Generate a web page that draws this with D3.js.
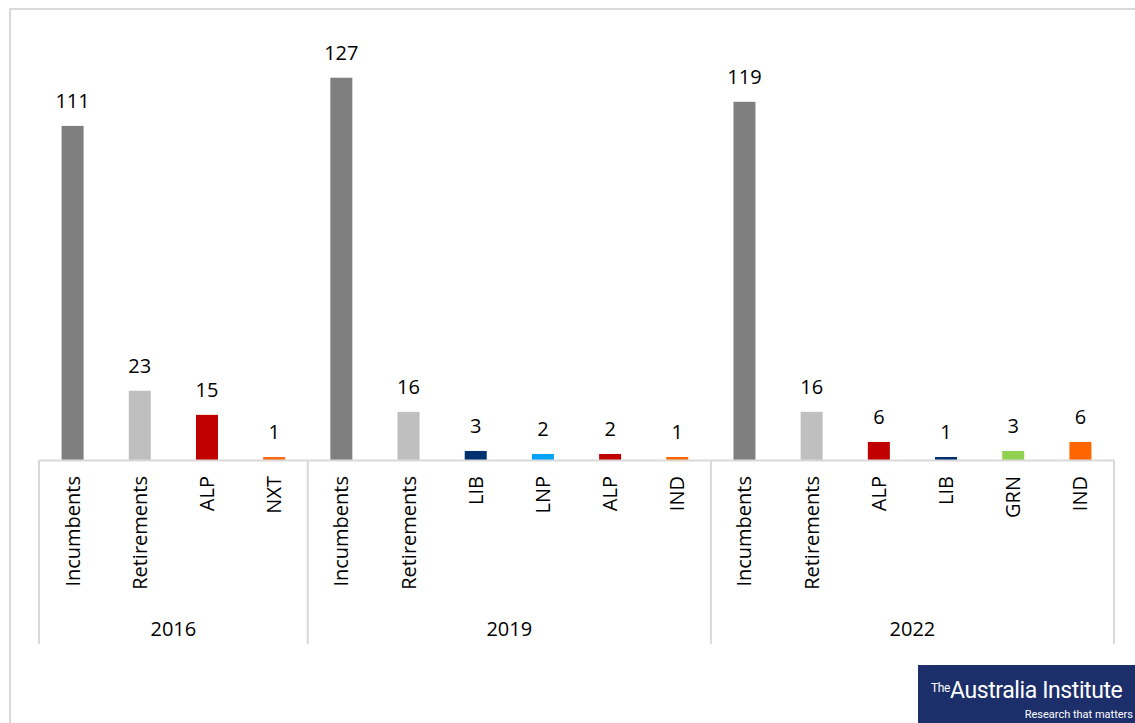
<!DOCTYPE html>
<html>
<head>
<meta charset="utf-8">
<script src="https://cdn.jsdelivr.net/npm/d3@7"></script>
<style>
  html, body { margin: 0; padding: 0; background: #fff; }
  svg { display: block; }
</style>
</head>
<body>
<svg id="chart" width="1135" height="723"></svg>
<script>
const years = ["2016", "2019", "2022"];
const categories2016 = ["Incumbents", "Retirements", "ALP", "NXT"];
const categories2019 = ["Incumbents", "Retirements", "LIB", "LNP", "ALP", "IND"];
const categories2022 = ["Incumbents", "Retirements", "ALP", "LIB", "GRN", "IND"];
const values2016 = [111, 23, 15, 1];
const values2019 = [127, 16, 3, 2, 2, 1];
const values2022 = [119, 16, 6, 1, 3, 6];
const colorMap = {
  "Incumbents": "#7f7f7f",
  "Retirements": "#bfbfbf",
  "ALP": "#c00000",
  "NXT": "#ff6a13",
  "LIB": "#00306e",
  "LNP": "#00a3f5",
  "GRN": "#92d050",
  "IND": "#ff6600"
};

const groups = [
  { year: years[0], cats: categories2016, vals: values2016 },
  { year: years[1], cats: categories2019, vals: values2019 },
  { year: years[2], cats: categories2022, vals: values2022 }
];
const data = [];
groups.forEach(g => g.cats.forEach((c, i) => data.push({ key: g.year + "|" + c, year: g.year, cat: c, value: g.vals[i] })));

const svg = d3.select("#chart");
const font = "'Open Sans', sans-serif";
const fs = 20;

// outer frame
svg.append("rect").attr("x", 10).attr("y", 9).attr("width", 1140).attr("height", 730)
  .attr("fill", "none").attr("stroke", "#d9d9d9").attr("stroke-width", 2);

const x0 = 39, x1 = 1114, baseY = 460;
const x = d3.scaleBand().domain(data.map(d => d.key)).range([x0, x1]).paddingInner(0).paddingOuter(0);
const y = d3.scaleLinear().domain([0, 140]).range([baseY, baseY - 421.4]);
const barW = 22;

// bars
svg.append("g").selectAll("rect").data(data).join("rect")
  .attr("x", d => x(d.key) + x.bandwidth() / 2 - barW / 2)
  .attr("y", d => y(d.value))
  .attr("width", barW)
  .attr("height", d => baseY - y(d.value))
  .attr("fill", d => colorMap[d.cat]);

// value labels
svg.append("g").selectAll("text").data(data).join("text")
  .attr("x", d => x(d.key) + x.bandwidth() / 2)
  .attr("y", d => y(d.value) - 18)
  .attr("text-anchor", "middle")
  .attr("font-family", font)
  .attr("font-size", fs)
  .attr("fill", "#000")
  .text(d => d.value);

// axis baseline
const axisColor = "#d9d9d9";
svg.append("line").attr("x1", x0).attr("x2", x1).attr("y1", baseY + 0.5).attr("y2", baseY + 0.5)
  .attr("stroke", axisColor).attr("stroke-width", 2);

// group dividers
const boundaries = [x0];
let acc = 0;
groups.forEach(g => { acc += g.cats.length; boundaries.push(x(data[acc - 1].key) + x.bandwidth()); });
svg.append("g").selectAll("line").data(boundaries).join("line")
  .attr("x1", d => d).attr("x2", d => d)
  .attr("y1", baseY).attr("y2", 644)
  .attr("stroke", axisColor).attr("stroke-width", 2);

// category labels (rotated)
svg.append("g").selectAll("text").data(data).join("text")
  .attr("transform", d => `translate(${x(d.key) + x.bandwidth() / 2 + 7},${476}) rotate(-90)`)
  .attr("text-anchor", "end")
  .attr("font-family", font)
  .attr("font-size", fs)
  .attr("fill", "#000")
  .text(d => d.cat);

// year labels
const yearPos = groups.map((g, i) => ({ year: g.year, cx: (boundaries[i] + boundaries[i + 1]) / 2 }));
svg.append("g").selectAll("text").data(yearPos).join("text")
  .attr("x", d => d.cx)
  .attr("y", 636)
  .attr("text-anchor", "middle")
  .attr("font-family", font)
  .attr("font-size", fs)
  .attr("fill", "#000")
  .text(d => d.year);

// logo
const logo = svg.append("g");
logo.append("rect").attr("x", 918).attr("y", 665).attr("width", 217).attr("height", 58).attr("fill", "#1d2f6b");
const t = logo.append("text").attr("x", 931).attr("y", 698).attr("fill", "#fff")
  .attr("font-family", "'Liberation Sans Narrow', 'Roboto', sans-serif").attr("letter-spacing", -0.4);
t.append("tspan").attr("font-size", 12).attr("dy", -6).text("The");
t.append("tspan").attr("font-size", 23).attr("dy", 6).text("Australia Institute");
logo.append("text").attr("x", 1133).attr("y", 718).attr("fill", "#fff").attr("text-anchor", "end")
  .attr("font-family", "'Liberation Sans Narrow', 'Roboto', sans-serif").attr("font-size", 11)
  .text("Research that matters");
</script>
</body>
</html>
